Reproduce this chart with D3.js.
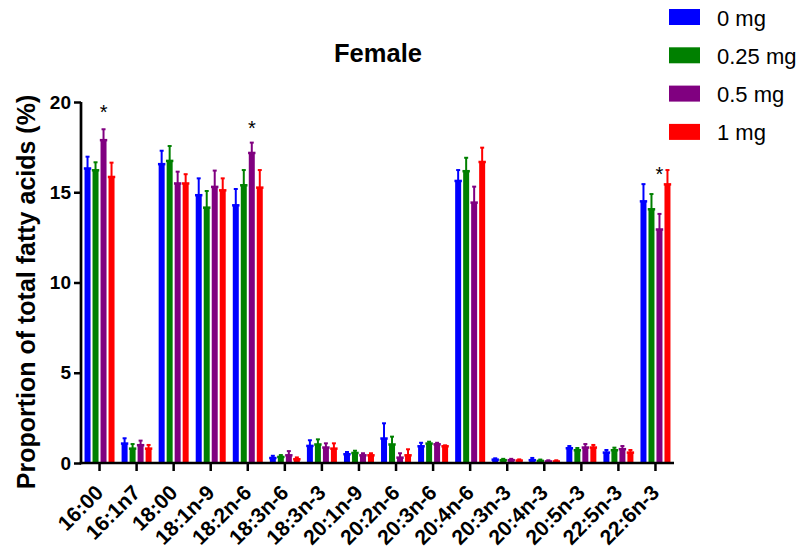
<!DOCTYPE html>
<html>
<head>
<meta charset="utf-8">
<script src="https://cdn.jsdelivr.net/npm/d3@7"></script>
<style>
  body { margin: 0; background: #fff; }
  svg { display: block; font-family: "Liberation Sans", Arial, sans-serif; }
</style>
</head>
<body>
<svg id="chart" width="802" height="547"></svg>
<script>
const categories = ["16:00","16:1n7","18:00","18:1n-9","18:2n-6","18:3n-6","18:3n-3","20:1n-9","20:2n-6","20:3n-6","20:4n-6","20:3n-3","20:4n-3","20:5n-3","22:5n-3","22:6n-3"];
const seriesNames = ["0 mg","0.25 mg","0.5 mg","1 mg"];
const seriesColors = ["#0000ff","#008000","#800080","#ff0000"];

const mean0   = [16.33, 1.09, 16.57, 14.85, 14.29, 0.29, 0.96, 0.50, 1.37, 0.94, 15.64, 0.20, 0.17, 0.83, 0.59, 14.51];
const mean025 = [16.23, 0.81, 16.75, 14.16, 15.40, 0.35, 1.04, 0.57, 1.04, 1.09, 16.18, 0.17, 0.13, 0.72, 0.72, 14.07];
const mean05  = [17.90, 1.00, 15.50, 15.31, 17.19, 0.44, 0.87, 0.44, 0.31, 1.05, 14.44, 0.17, 0.10, 0.87, 0.78, 12.95];
const mean1   = [15.86, 0.81, 15.50, 15.12, 15.27, 0.22, 0.81, 0.44, 0.44, 0.94, 16.69, 0.15, 0.10, 0.87, 0.59, 15.45];

const err0   = [0.64, 0.28, 0.73, 0.92, 0.89, 0.11, 0.30, 0.11, 0.83, 0.18, 0.59, 0.06, 0.11, 0.11, 0.13, 0.94];
const err025 = [0.43, 0.24, 0.81, 0.91, 0.83, 0.09, 0.27, 0.11, 0.42, 0.09, 0.73, 0.06, 0.06, 0.11, 0.13, 0.83];
const err05  = [0.59, 0.24, 0.64, 0.89, 0.56, 0.22, 0.22, 0.10, 0.23, 0.07, 0.87, 0.06, 0.05, 0.18, 0.16, 0.85];
const err1   = [0.78, 0.19, 0.50, 0.65, 0.96, 0.09, 0.28, 0.10, 0.32, 0.04, 0.78, 0.05, 0.05, 0.13, 0.13, 0.78];

const yTicks = [0, 5, 10, 15, 20];
const sigCategories = ["16:00","18:2n-6","22:6n-3"];
const sigSeries = [2, 2, 2];
const sigY = [19.06, 18.19, 15.62];

const means = [mean0, mean025, mean05, mean1];
const errs = [err0, err025, err05, err1];

const svg = d3.select("#chart");
const pLeft = 81, pRight = 674, pTop = 102, pBottom = 463;

const x = d3.scaleBand().domain(categories).range([pLeft, pRight]).paddingInner(0).paddingOuter(0);
const xs = d3.scaleBand().domain(d3.range(4)).range([x.bandwidth()/2 - 16, x.bandwidth()/2 + 16]).paddingInner(0.25).paddingOuter(0.125);
const y = d3.scaleLinear().domain([0, 20]).range([pBottom, pTop]);

// bars
const groups = svg.append("g").selectAll("g").data(categories).join("g")
  .attr("transform", d => `translate(${x(d)},0)`);

groups.each(function(cat, ci) {
  const g = d3.select(this);
  for (let s = 0; s < 4; s++) {
    const v = means[s][ci], e = errs[s][ci];
    const cx = xs(s) + xs.bandwidth()/2;
    const col = seriesColors[s];
    g.append("line").attr("x1", cx).attr("x2", cx)
      .attr("y1", y(v)).attr("y2", y(v + e))
      .attr("stroke", col).attr("stroke-width", 2);
    g.append("line").attr("x1", cx - 2).attr("x2", cx + 2)
      .attr("y1", y(v + e)).attr("y2", y(v + e))
      .attr("stroke", col).attr("stroke-width", 2);
    g.append("rect").attr("x", xs(s)).attr("width", xs.bandwidth())
      .attr("y", y(v)).attr("height", y(0) - y(v)).attr("fill", col);
    g.append("rect").attr("x", xs(s) - 0.7).attr("width", xs.bandwidth() + 1.4)
      .attr("y", y(v) - 1).attr("height", 2.5).attr("fill", col);
  }
});

// axes
const yAxis = d3.axisLeft(y).tickValues(yTicks).tickSize(7).tickPadding(3);
const yg = svg.append("g").attr("transform", `translate(${pLeft},0)`).call(yAxis);
yg.select(".domain").attr("stroke", "#000").attr("stroke-width", 2.7).attr("d", `M0,${pBottom+1.3}V${pTop}`);
yg.selectAll(".tick line").attr("stroke", "#000").attr("stroke-width", 2.5);
yg.selectAll(".tick text").attr("font-size", 19).attr("font-weight", "bold").attr("fill", "#000")
  .attr("font-family", "Liberation Sans, Arial, sans-serif");

const xAxis = d3.axisBottom(x).tickSize(8).tickSizeOuter(0);
const xg = svg.append("g").attr("transform", `translate(0,${pBottom})`).call(xAxis);
xg.select(".domain").attr("stroke", "#000").attr("stroke-width", 2.7).attr("d", `M${pLeft-1.3},0H${pRight}`);
xg.selectAll(".tick line").attr("stroke", "#000").attr("stroke-width", 2.5);
xg.selectAll(".tick text")
  .attr("font-size", 21).attr("font-weight", "bold").attr("fill", "#000")
  .attr("font-family", "Liberation Sans, Arial, sans-serif")
  .attr("text-anchor", "end")
  .attr("dy", 0)
  .attr("transform", "translate(5,31) rotate(-45)")
  .attr("x", 0).attr("y", 0);

// significance asterisks
svg.append("g").selectAll("text").data(sigCategories).join("text")
  .attr("x", (d, i) => x(d) + xs(sigSeries[i]) + xs.bandwidth()/2)
  .attr("y", (d, i) => y(sigY[i]))
  .attr("text-anchor", "middle")
  .attr("font-size", 20).attr("fill", "#000")
  .text("*");

// title
svg.append("text").attr("x", 378).attr("y", 62).attr("text-anchor", "middle")
  .attr("font-size", 25.5).attr("font-weight", "bold").text("Female");

// y label
svg.append("text")
  .attr("transform", `translate(35,292) rotate(-90)`)
  .attr("text-anchor", "middle")
  .attr("font-size", 25).attr("font-weight", "bold")
  .text("Proportion of total fatty acids (%)");

// legend
const lg = svg.append("g").selectAll("g").data(seriesNames).join("g")
  .attr("transform", (d, i) => `translate(669,${17 + i * 38.3})`);
lg.append("rect").attr("x", 0).attr("y", -8).attr("width", 31).attr("height", 16)
  .attr("fill", (d, i) => seriesColors[i]);
lg.append("text").attr("x", 48).attr("y", 8.5)
  .attr("font-size", 22).attr("fill", "#000").text(d => d);
</script>
</body>
</html>
